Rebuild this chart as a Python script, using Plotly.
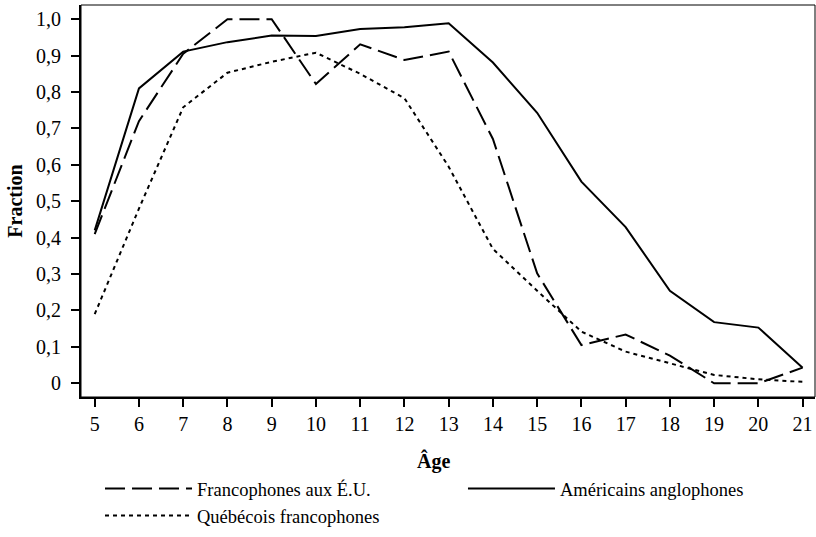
import plotly.graph_objects as go

ages = list(range(5, 22))
francophones_eu = [0.41, 0.72, 0.905, 1.0, 1.0, 0.822, 0.931, 0.888, 0.911, 0.671, 0.302, 0.105, 0.134, 0.076, 0.0, 0.0, 0.043]
americains_anglo = [0.42, 0.81, 0.911, 0.937, 0.955, 0.954, 0.973, 0.978, 0.989, 0.881, 0.743, 0.554, 0.429, 0.254, 0.168, 0.153, 0.043]
quebecois_franco = [0.19, 0.48, 0.758, 0.853, 0.883, 0.908, 0.85, 0.783, 0.595, 0.369, 0.254, 0.142, 0.087, 0.055, 0.023, 0.011, 0.004]

y_tickvals = [0, 0.1, 0.2, 0.3, 0.4, 0.5, 0.6, 0.7, 0.8, 0.9, 1.0]
y_ticktext = ["0", "0,1", "0,2", "0,3", "0,4", "0,5", "0,6", "0,7", "0,8", "0,9", "1,0"]

FONT = "Liberation Serif"

fig = go.Figure()
fig.add_trace(go.Scatter(x=ages, y=francophones_eu, mode="lines", name="Francophones aux É.U.",
                         legend="legend",
                         line=dict(color="black", width=2, dash="20px,7px")))
fig.add_trace(go.Scatter(x=ages, y=americains_anglo, mode="lines", name="Américains anglophones",
                         legend="legend2",
                         line=dict(color="black", width=2)))
fig.add_trace(go.Scatter(x=ages, y=quebecois_franco, mode="lines", name="Québécois francophones",
                         legend="legend",
                         line=dict(color="black", width=2, dash="4px,4px")))

legend_common = dict(orientation="v", xanchor="left", yanchor="top", yref="container", itemwidth=87,
                     font=dict(family=FONT, size=18.5, color="black"),
                     bgcolor="rgba(0,0,0,0)", traceorder="normal")

fig.update_layout(
    width=816, height=537,
    margin=dict(l=81, r=1, t=5, b=140),
    paper_bgcolor="white", plot_bgcolor="white",
    font=dict(family=FONT, size=20, color="black"),
    showlegend=True,
    legend=dict(x=0.0259, y=0.1248, **legend_common),
    legend2=dict(x=0.5204, y=0.1248, **legend_common),
    shapes=[dict(type="rect", xref="paper", yref="paper", x0=0, y0=0, x1=1, y1=1,
                 line=dict(color="black", width=1), layer="above")],
    annotations=[dict(text="<b>Âge</b>", xref="paper", yref="paper", x=0.48, y=-0.163,
                      xanchor="center", yanchor="middle", showarrow=False,
                      font=dict(family=FONT, size=20, color="black"))],
)
fig.update_xaxes(range=[4.69, 21.28], tickmode="array", tickvals=ages, ticktext=[str(a) for a in ages],
                 showgrid=False, zeroline=False, showline=True, linecolor="black", linewidth=2,
                 ticks="outside", ticklen=8, tickwidth=1.5, tickcolor="black",
                 tickfont=dict(family=FONT, size=20, color="black"))
fig.update_yaxes(range=[-0.0376, 1.039], tickmode="array", tickvals=y_tickvals, ticktext=y_ticktext,
                 showgrid=False, zeroline=False, showline=True, linecolor="black", linewidth=2,
                 ticks="outside", ticklen=8, tickwidth=1.5, tickcolor="black",
                 tickfont=dict(family=FONT, size=20, color="black"), ticklabelstandoff=6,
                 title=dict(text="<b>Fraction</b>", font=dict(family=FONT, size=20, color="black"), standoff=8))

fig.write_html("out.html", config={"displayModeBar": False},
               post_script="document.body.style.margin='0';")
